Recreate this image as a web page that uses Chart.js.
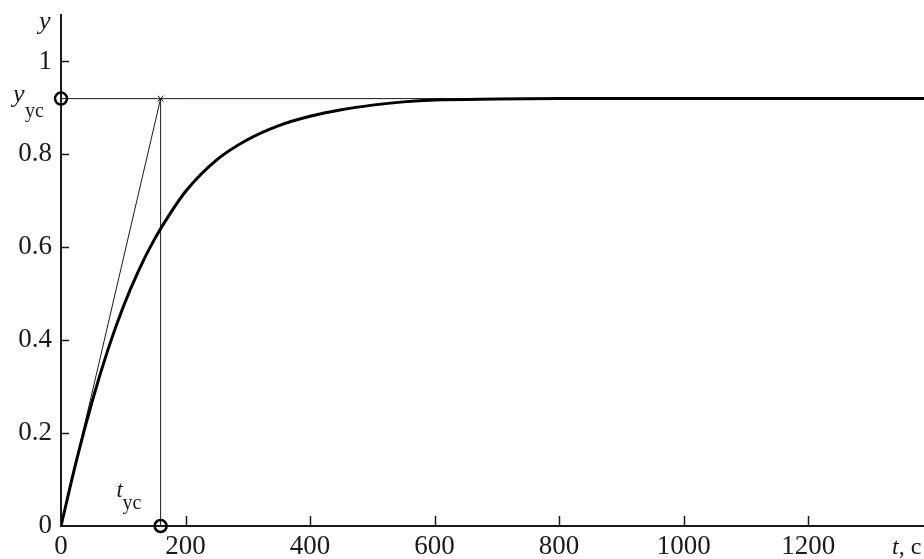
<!DOCTYPE html>
<html>
<head>
<meta charset="utf-8">
<script src="https://cdn.jsdelivr.net/npm/chart.js@4"></script>
<style>
  html, body { margin: 0; padding: 0; background: #fff; }
  #wrap { width: 924px; height: 559px; }
</style>
</head>
<body>
<div id="wrap"><canvas id="myChart" width="924" height="559"></canvas></div>
<script>
// переходная характеристика, значения
var tValues = [0, 25, 50, 75, 100, 125, 150, 175, 200, 250, 300, 350, 400, 450, 500, 550, 600, 700, 800, 1000, 1200, 1386];
var yValues = [0, 0.142, 0.268, 0.378, 0.472, 0.551, 0.617, 0.672, 0.72, 0.788, 0.832, 0.862, 0.882, 0.896, 0.906, 0.913, 0.917, 0.919, 0.92, 0.92, 0.92, 0.92];

var tTicks = [0, 200, 400, 600, 800, 1000, 1200];
var yTicks = [0, 0.2, 0.4, 0.6, 0.8, 1];

var tUst = 160;   // t_ус
var yUst = 0.92;  // y_ус
var tMax = 1386;
var yMax = 1.1;

var ink = "#1a1a1a";
var serif = "'Liberation Serif', 'DejaVu Serif', serif";

var curve = tValues.map(function (t, i) { return { x: t, y: yValues[i] }; });

// маленькие засечки внутрь и подписи y, y_ус, t_ус, t, c
var extras = {
    id: "extras",
    afterDraw: function (chart) {
        var ctx = chart.ctx;
        var xs = chart.scales.x, ys = chart.scales.y;
        var a = chart.chartArea;
        ctx.save();
        ctx.strokeStyle = ink;
        ctx.lineWidth = 1.5;
        yTicks.forEach(function (v) {
            if (v === 0) return;
            var p = Math.round(ys.getPixelForValue(v)) + 0.5;
            ctx.beginPath(); ctx.moveTo(a.left, p); ctx.lineTo(a.left + 8, p); ctx.stroke();
        });
        tTicks.forEach(function (v) {
            if (v === 0) return;
            var p = Math.round(xs.getPixelForValue(v)) + 0.5;
            ctx.beginPath(); ctx.moveTo(p, a.bottom); ctx.lineTo(p, a.bottom - 10); ctx.stroke();
        });

        ctx.fillStyle = ink;
        ctx.textBaseline = "alphabetic";
        ctx.textAlign = "left";

        // y
        ctx.font = "italic 26px " + serif;
        ctx.fillText("y", a.left - 22, a.top + 14);

        // y_ус
        var py = ys.getPixelForValue(yUst);
        ctx.font = "italic 26px " + serif;
        ctx.fillText("y", a.left - 48, py + 3);
        ctx.font = "20px " + serif;
        ctx.fillText("ус", a.left - 36, py + 18);

        // t_ус
        var px = xs.getPixelForValue(tUst);
        ctx.font = "italic 23px " + serif;
        ctx.fillText("t", px - 44, a.bottom - 29);
        ctx.font = "20px " + serif;
        ctx.fillText("ус", px - 38, a.bottom - 17);

        // t, c
        ctx.font = "italic 24px " + serif;
        ctx.fillText("t", a.left + 831, a.bottom + 28);
        var w = ctx.measureText("t").width;
        ctx.font = "24px " + serif;
        ctx.fillText(", c", a.left + 831 + w, a.bottom + 28);
        ctx.restore();
    }
};

new Chart("myChart", {
    type: "line",
    data: {
        datasets: [{
            data: curve,
            borderColor: "#000",
            borderWidth: 3,
            pointRadius: 0,
            cubicInterpolationMode: "monotone",
            fill: false
        }, {
            data: [{ x: 0, y: yUst }, { x: tMax, y: yUst }],
            borderColor: ink,
            borderWidth: 1,
            pointRadius: 0,
            fill: false
        }, {
            data: [{ x: tUst, y: 0 }, { x: tUst, y: yUst }],
            borderColor: ink,
            borderWidth: 1,
            pointRadius: 0,
            fill: false
        }, {
            data: [{ x: 0, y: 0 }, { x: tUst, y: yUst }],
            borderColor: ink,
            borderWidth: 1,
            pointRadius: 0,
            fill: false
        }, {
            data: [{ x: 0, y: yUst }, { x: tUst, y: 0 }],
            showLine: false,
            pointStyle: "circle",
            pointRadius: 6,
            pointBorderWidth: 2.5,
            pointBorderColor: "#000",
            pointBackgroundColor: "rgba(0,0,0,0)",
            clip: false
        }, {
            data: [{ x: tUst, y: yUst }],
            showLine: false,
            pointStyle: "crossRot",
            pointRadius: 4,
            pointBorderWidth: 1,
            pointBorderColor: "#000",
            clip: false
        }]
    },
    options: {
        responsive: false,
        animation: false,
        devicePixelRatio: 1,
        layout: { autoPadding: false, padding: { top: 15, right: 0, left: 0, bottom: 0 } },
        plugins: {
            legend: { display: false },
            tooltip: { enabled: false }
        },
        scales: {
            x: {
                type: "linear",
                min: 0,
                max: tMax,
                afterBuildTicks: function (s) { s.ticks = tTicks.map(function (v) { return { value: v }; }); },
                afterFit: function (s) {
                    s.height = 33;
                    s.paddingLeft = 0; s.paddingRight = 0;
                },
                grid: { display: false, tickLength: 0 },
                border: { display: true, color: ink, width: 2 },
                ticks: {
                    color: ink,
                    font: { family: serif, size: 27 },
                    padding: 5,
                    maxRotation: 0,
                    autoSkip: false,
                    callback: function (v) { return String(v); }
                }
            },
            y: {
                type: "linear",
                min: 0,
                max: yMax,
                afterBuildTicks: function (s) { s.ticks = yTicks.map(function (v) { return { value: v }; }); },
                afterFit: function (s) {
                    s.width = 61;
                    s.paddingTop = 0; s.paddingBottom = 0;
                },
                grid: { display: false, tickLength: 0 },
                border: { display: true, color: ink, width: 2 },
                ticks: {
                    color: ink,
                    font: { family: serif, size: 27 },
                    padding: 9,
                    autoSkip: false,
                    callback: function (v) { return String(v); }
                }
            }
        }
    },
    plugins: [extras]
});
</script>
</body>
</html>
